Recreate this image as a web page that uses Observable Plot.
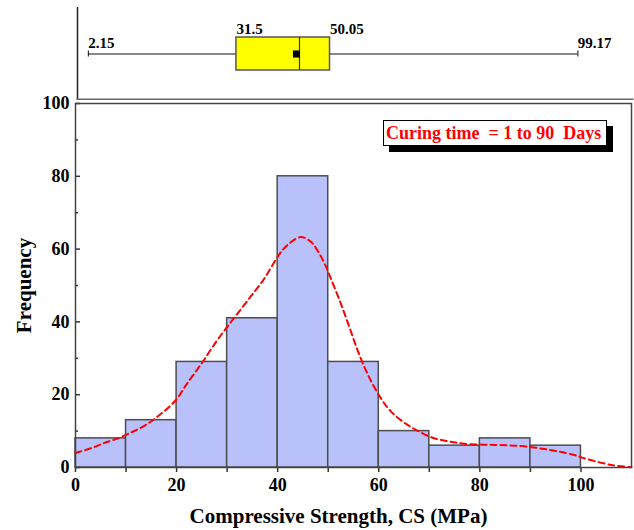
<!DOCTYPE html>
<html>
<head>
<meta charset="utf-8">
<script src="https://cdn.jsdelivr.net/npm/d3@7"></script>
<script src="https://cdn.jsdelivr.net/npm/@observablehq/plot@0.6"></script>
<style>
  body { margin: 0; background: #fff; }
  #wrap { position: relative; width: 634px; height: 530px; font-family: "Liberation Serif", "Times New Roman", serif; }
  #wrap svg { position: absolute; left: 0; top: 0; }
  #legend {
    position: absolute; left: 383px; top: 120px; width: 220px; height: 24px;
    border: 1px solid #000; background: #fff; box-shadow: 6px 6px 0 #000;
    color: #ff0000; font-weight: bold; font-size: 18px; line-height: 24px;
    white-space: pre; padding-left: 2px; box-sizing: content-box;
  }
</style>
</head>
<body>
<div id="wrap"></div>
<script>
// Histogram of compressive strength (MPa), 10 MPa bins
const binStarts = [0, 10, 20, 30, 40, 50, 60, 70, 80, 90];
const binWidth = 10;
const binCounts = [8, 13, 29, 41, 80, 29, 10, 6, 8, 6];

// Fitted distribution curve (frequency scale)
const fitX = [0, 3.3, 5.6, 8.2, 10.5, 12.5, 14.8, 16.5, 18.5, 20.3, 21.8, 24.9, 28, 31, 34.3, 37.3, 40.4, 42, 44.5, 46.5, 48.1, 49.3, 50.4, 52.4, 54.2, 56, 58.2, 60.7, 62.2, 64, 66.4, 70.4, 73.7, 77, 82.9, 88.2, 93.5, 98.5, 101, 106, 110];
const fitY = [4.0, 5.4, 6.7, 7.9, 9.3, 10.6, 12.5, 14.3, 16.6, 19.3, 22.5, 28.5, 34.9, 40.4, 46.3, 51.8, 58.7, 61.2, 63.3, 62.1, 59.1, 56.0, 52.3, 45.4, 38.5, 31.5, 24.5, 18.4, 15.7, 13.4, 11.1, 8.3, 7.2, 6.5, 6.2, 5.9, 4.9, 3.5, 2.4, 0.7, 0.1];

// Box-plot summary
const boxName = "CS";
const boxMin = 2.15;
const boxQ1 = 31.5;
const boxMedian = 44.0;
const boxQ3 = 50.05;
const boxMax = 99.17;
const boxMean = 43.4;

// Axis ticks and texts
const xMajor = [0, 20, 40, 60, 80, 100];
const xMinor = [10, 30, 50, 70, 90];
const yMajor = [0, 20, 40, 60, 80, 100];
const yMinor = [10, 30, 50, 70, 90];
const xTitle = "Compressive Strength, CS (MPa)";
const yTitle = "Frequency";
const legendText = "Curing time  = 1 to 90  Days";

const serif = "'Liberation Serif', 'Times New Roman', serif";

const bins = binStarts.map((x0, i) => ({x0, x1: x0 + binWidth, count: binCounts[i]}));
const fit = fitX.map((x, i) => ({x, y: fitY[i]}));
const box = [{name: boxName, min: boxMin, q1: boxQ1, median: boxMedian, q3: boxQ3, max: boxMax, mean: boxMean}];

const histPlot = Plot.plot({
  width: 634,
  height: 530,
  marginTop: 103,
  marginBottom: 63,
  marginLeft: 75,
  marginRight: 3,
  style: {fontFamily: serif, fontWeight: "bold", fontSize: "18px", background: "transparent", color: "#000"},
  x: {domain: [0, 110]},
  y: {domain: [0, 100]},
  marks: [
    Plot.rectY(bins, {x1: "x0", x2: "x1", y: "count", fill: "#b9c1fb", stroke: "#4d4d4d", strokeWidth: 1.5}),
    Plot.line(fit, {x: "x", y: "y", stroke: "#ff0000", strokeWidth: 2, strokeDasharray: "6,4", curve: "catmull-rom"}),
    Plot.axisX({ticks: xMajor, tickSize: 5, tickPadding: 6, label: null, stroke: "#333", strokeWidth: 1.5}),
    Plot.axisX({ticks: xMinor, tickSize: 5, text: null, label: null, stroke: "#333", strokeWidth: 1.5}),
    Plot.axisY({ticks: yMajor, tickSize: 0, tickPadding: 6, label: null}),
    Plot.axisY({ticks: yMajor, tickSize: -5, text: null, label: null, stroke: "#333", strokeWidth: 1.5}),
    Plot.axisY({ticks: yMinor, tickSize: -3, text: null, label: null, stroke: "#333", strokeWidth: 1.5}),
    Plot.frame({stroke: "#444", strokeWidth: 1.5}),
    Plot.text([xTitle], {text: d => d, frameAnchor: "bottom", dy: 55, dx: -15, fontSize: 21}),
    Plot.text([yTitle], {text: d => d, frameAnchor: "left", textAnchor: "middle", rotate: -90, dx: -51, fontSize: 21})
  ]
});

const boxPlot = Plot.plot({
  width: 634,
  height: 100,
  marginTop: 7,
  marginBottom: 1,
  marginLeft: 77,
  marginRight: 2,
  style: {fontFamily: serif, fontWeight: "bold", fontSize: "15px", background: "transparent", color: "#000"},
  x: {domain: [0, 110], axis: null},
  y: {domain: [boxName], padding: 0.47, axis: null},
  marks: [
    Plot.ruleX([0], {stroke: "#222", strokeWidth: 1.5}),
    Plot.frame({anchor: "bottom", stroke: "#666", strokeWidth: 2}),
    Plot.ruleY(box, {y: "name", x1: "min", x2: "max", stroke: "#111", strokeWidth: 1.2}),
    Plot.tickX(box, {x: "min", y: "name", insetTop: 13.5, insetBottom: 13.5, stroke: "#111"}),
    Plot.tickX(box, {x: "max", y: "name", insetTop: 13.5, insetBottom: 13.5, stroke: "#111"}),
    Plot.barX(box, {x1: "q1", x2: "q3", y: "name", fill: "#ffff00", stroke: "#555", strokeWidth: 1.5}),
    Plot.tickX(box, {x: "median", y: "name", stroke: "#333", strokeWidth: 1.2}),
    Plot.dot(box, {x: "mean", y: "name", symbol: "square", r: 4, fill: "#000", stroke: null}),
    Plot.text(box, {x: "min", y: "name", text: d => String(d.min), textAnchor: "start", lineAnchor: "bottom", dy: -6}),
    Plot.text(box, {x: "max", y: "name", text: d => String(d.max), textAnchor: "start", lineAnchor: "bottom", dy: -6}),
    Plot.text(box, {x: "q1", y: "name", text: d => String(d.q1), textAnchor: "start", lineAnchor: "bottom", dy: -20}),
    Plot.text(box, {x: "q3", y: "name", text: d => String(d.q3), textAnchor: "start", lineAnchor: "bottom", dy: -20})
  ]
});

const wrap = document.getElementById("wrap");
wrap.appendChild(histPlot);
wrap.appendChild(boxPlot);
const legend = document.createElement("div");
legend.id = "legend";
legend.textContent = legendText;
wrap.appendChild(legend);
</script>
</body>
</html>
